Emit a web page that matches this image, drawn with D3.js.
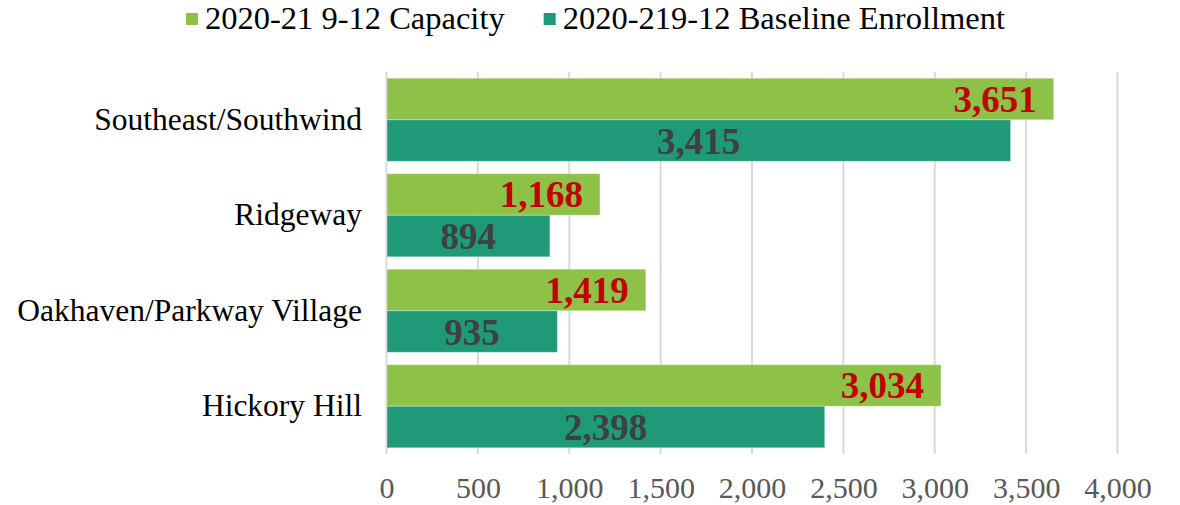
<!DOCTYPE html>
<html>
<head>
<meta charset="utf-8">
<script src="https://cdn.jsdelivr.net/npm/d3@7"></script>
<style>
  body { margin: 0; background: #fff; }
  svg { display: block; }
  svg text { font-family: "Liberation Serif", "Times New Roman", serif; }
</style>
</head>
<body>
<svg id="chart" width="1180" height="505"></svg>
<script>
var categories = ['Southeast/Southwind', 'Ridgeway', 'Oakhaven/Parkway Village', 'Hickory Hill']
var capacity = [3651, 1168, 1419, 3034]
var enrollment = [3415, 894, 935, 2398]
var seriesNames = ['2020-21 9-12 Capacity', '2020-219-12 Baseline Enrollment']
var tickValues = [0, 500, 1000, 1500, 2000, 2500, 3000, 3500, 4000]

var colors = ['#8dc147', '#1e9a78']
var labelColors = ['#c00000', '#404040']

var svg = d3.select('#chart')

var x = d3.scaleLinear().domain([0, 4000]).range([386.5, 1117.5])
var y = d3.scaleBand().domain(categories).range([72, 454])
  .paddingInner(0.13).paddingOuter(0.065)
var sub = d3.scaleBand().domain([0, 1]).range([0, y.bandwidth()])

// gridlines
svg.append('g')
  .selectAll('line')
  .data(tickValues)
  .enter()
  .append('line')
  .attr('x1', function (d) { return x(d) })
  .attr('x2', function (d) { return x(d) })
  .attr('y1', 72)
  .attr('y2', 454)
  .attr('stroke', '#d9d9d9')
  .attr('stroke-width', 2)

// tick labels via axis
var axis = svg.append('g')
  .attr('transform', 'translate(0,454)')
  .call(d3.axisBottom(x).tickValues(tickValues).tickFormat(d3.format(',')).tickSize(0))
axis.select('.domain').remove()
axis.selectAll('text')
  .attr('y', 44)
  .attr('dy', 0)
  .attr('fill', '#595959')
  .style('font-size', '30px')

var rows = categories.map(function (c, i) {
  return { cat: c, vals: [capacity[i], enrollment[i]] }
})

var groups = svg.append('g')
  .selectAll('g')
  .data(rows)
  .enter()
  .append('g')
  .attr('transform', function (d) { return 'translate(0,' + y(d.cat) + ')' })

groups.selectAll('rect')
  .data(function (d) { return d.vals })
  .enter()
  .append('rect')
  .attr('x', x(0) + 0.5)
  .attr('y', function (d, j) { return sub(j) })
  .attr('width', function (d) { return x(d) - x(0) - 0.5 })
  .attr('height', sub.bandwidth())
  .attr('fill', function (d, j) { return colors[j] })
  .attr('stroke', 'rgba(255,255,255,0.35)')
  .attr('stroke-width', 1)

groups.selectAll('text.val')
  .data(function (d) { return d.vals })
  .enter()
  .append('text')
  .attr('class', 'val')
  .attr('x', function (d, j) {
    return j === 0 ? x(d) - 17 : (x(0) + x(d)) / 2
  })
  .attr('y', function (d, j) { return sub(j) + sub.bandwidth() / 2 + 13 })
  .attr('text-anchor', function (d, j) { return j === 0 ? 'end' : 'middle' })
  .attr('fill', function (d, j) { return labelColors[j] })
  .style('font-size', '37px')
  .style('font-weight', 'bold')
  .text(function (d) { return d3.format(',')(d) })

// category labels
svg.append('g')
  .selectAll('text')
  .data(categories)
  .enter()
  .append('text')
  .attr('x', 362)
  .attr('y', function (d) { return y(d) + y.bandwidth() / 2 + 10 })
  .attr('text-anchor', 'end')
  .attr('fill', '#000')
  .style('font-size', '31.5px')
  .text(function (d) { return d })

// legend
var legend = svg.append('g')
var items = legend.selectAll('g')
  .data(seriesNames)
  .enter()
  .append('g')
items.append('rect')
  .attr('width', 12)
  .attr('height', 12)
  .attr('y', 13)
  .attr('fill', function (d, i) { return colors[i] })
items.append('text')
  .attr('x', 19)
  .attr('y', 29)
  .attr('fill', '#000')
  .style('font-size', '32.5px')
  .text(function (d) { return d })

var offset = 0
var widths = []
items.each(function () {
  widths.push(19 + d3.select(this).select('text').node().getComputedTextLength())
})
items.attr('transform', function (d, i) {
  var tx = 186 + offset
  offset += widths[i] + 39
  return 'translate(' + tx + ',0)'
})
</script>
</body>
</html>
